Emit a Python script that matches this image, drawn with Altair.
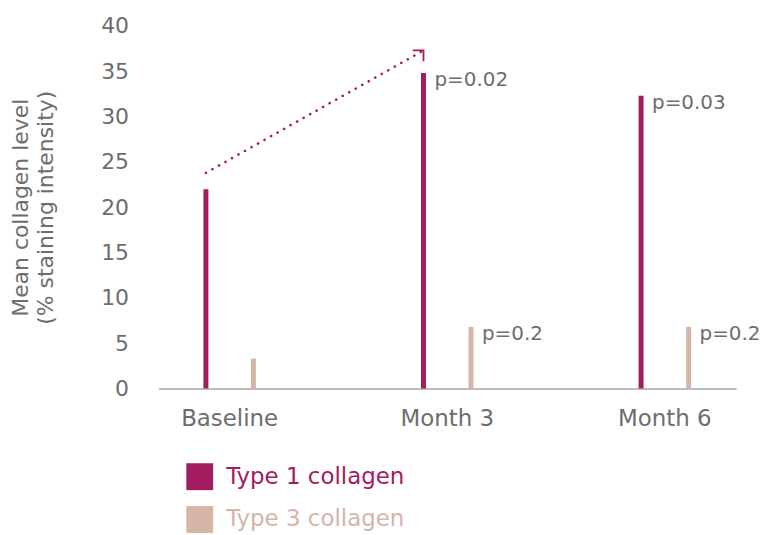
import altair as alt
import pandas as pd

times = ["Baseline", "Month 3", "Month 6"]
types = ["Type 1 collagen", "Type 3 collagen"]
type1_values = [22.0, 34.8, 32.3]
type3_values = [3.3, 6.8, 6.8]
type1_p = ["", "p=0.02", "p=0.03"]
type3_p = ["", "p=0.2", "p=0.2"]
arrow_times = ["Baseline", "Month 3"]
arrow_values = [23.8, 37.3]
y_ticks = [0, 5, 10, 15, 20, 25, 30, 35, 40]

colors = ["#a21c5e", "#d4b5a8"]
gray = "#6d6d6d"
font = "DejaVu Sans"

rows = []
for t, v, p in zip(times, type1_values, type1_p):
    rows.append({"time": t, "type": types[0], "value": v, "p": p})
for t, v, p in zip(times, type3_values, type3_p):
    rows.append({"time": t, "type": types[1], "value": v, "p": p})
df = pd.DataFrame(rows)
df_p = df[df["p"] != ""]
df_arrow = pd.DataFrame({"time": arrow_times, "type": [types[0]] * 2, "value": arrow_values})
df_head = df_arrow.tail(1)

x = alt.X("time:N", sort=times, title=None,
          scale=alt.Scale(paddingInner=0.345, paddingOuter=0),
          axis=alt.Axis(labelAngle=0, labelFontSize=23, labelColor=gray, labelFont=font,
                        labelPadding=19, ticks=False, tickSize=0, domainColor="#a8a8a8",
                        domainWidth=1.5, grid=False))
xoff = alt.XOffset("type:N", sort=types, scale=alt.Scale(paddingInner=0, paddingOuter=0.5))
y = alt.Y("value:Q", title=["Mean collagen level", "(% staining intensity)"],
          scale=alt.Scale(domain=[0, 40]),
          axis=alt.Axis(values=y_ticks, labelFontSize=22, labelColor=gray, labelFont=font,
                        labelPadding=30, ticks=False, domain=False, grid=False,
                        titleFontSize=22, titleFontWeight="normal", titleColor=gray,
                        titleFont=font, titlePadding=43, titleLineHeight=25))
color = alt.Color("type:N", sort=types, scale=alt.Scale(domain=types, range=colors),
                  legend=alt.Legend(title=None, orient="none", legendX=28, legendY=439,
                                    symbolType="square", symbolSize=729, symbolStrokeWidth=0,
                                    labelFontSize=23, labelFont=font, rowPadding=16,
                                    labelOffset=13, labelLimit=400,
                                    labelColor=alt.ExprRef("datum.label == 'Type 1 collagen' ? '#a21c5e' : '#d4b5a8'")))

bars = alt.Chart(df).mark_bar(size=5).encode(x=x, xOffset=xoff, y=y, color=color)

ptext = alt.Chart(df_p).mark_text(align="left", baseline="top", dx=11, dy=-3,
                                  fontSize=20, font=font, color=gray).encode(
    x=alt.X("time:N", sort=times), xOffset=alt.XOffset("type:N", sort=types), y="value:Q",
    text="p:N")

arrow = alt.Chart(df_arrow).mark_line(strokeDash=[0.1, 7.4], strokeCap="round",
                                      strokeWidth=2.6, color=colors[0]).encode(
    x=alt.X("time:N", sort=times), xOffset=alt.XOffset("type:N", sort=types), y="value:Q")

head = alt.Chart(df_head).mark_point(shape="M -1 0 L 0 0 L 0 1", filled=False,
                                     size=460, strokeWidth=1.8, color=colors[0],
                                     opacity=1).encode(
    x=alt.X("time:N", sort=times), xOffset=alt.XOffset("type:N", sort=types), y="value:Q")

chart = alt.layer(bars, arrow, head, ptext).properties(
    width=580, height=364, padding={"left": 2, "top": 6, "right": 0, "bottom": 2}
).configure(font=font).configure_view(strokeWidth=0, stroke=None)

chart.save("out.html", embed_options={"renderer": "svg", "actions": False})
